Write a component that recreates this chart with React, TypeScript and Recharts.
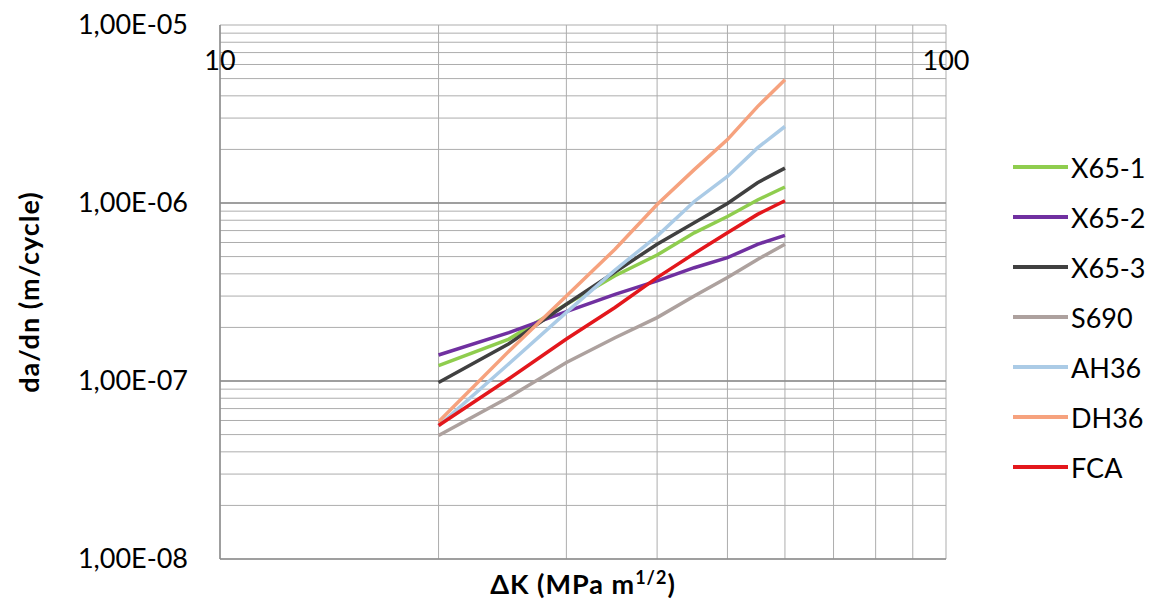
import { LineChart, Line, XAxis, YAxis, CartesianGrid, ReferenceLine, Legend } from "recharts";

// ΔK values (MPa m^1/2) where each curve was sampled
const deltaK = [20, 25, 30, 35, 40, 45, 50, 55, 60];

// da/dn (m/cycle) per material
const x65_1 = [1.22e-7, 1.72e-7, 2.7e-7, 3.9e-7, 5.1e-7, 6.8e-7, 8.4e-7, 1.04e-6, 1.23e-6];
const x65_2 = [1.4e-7, 1.87e-7, 2.45e-7, 3.07e-7, 3.65e-7, 4.33e-7, 4.93e-7, 5.86e-7, 6.58e-7];
const x65_3 = [9.8e-8, 1.62e-7, 2.7e-7, 4.1e-7, 5.86e-7, 7.74e-7, 9.93e-7, 1.3e-6, 1.57e-6];
const s690 = [4.94e-8, 8.1e-8, 1.27e-7, 1.75e-7, 2.27e-7, 3.0e-7, 3.81e-7, 4.82e-7, 5.86e-7];
const ah36 = [5.6e-8, 1.25e-7, 2.43e-7, 4.2e-7, 6.52e-7, 1.02e-6, 1.41e-6, 2.04e-6, 2.69e-6];
const dh36 = [5.9e-8, 1.47e-7, 3.0e-7, 5.5e-7, 9.8e-7, 1.54e-6, 2.27e-6, 3.48e-6, 4.92e-6];
const fca = [5.62e-8, 1.03e-7, 1.72e-7, 2.59e-7, 3.81e-7, 5.2e-7, 6.8e-7, 8.63e-7, 1.03e-6];

const series = [
  { key: "X65-1", values: x65_1, color: "#8fcd4e" },
  { key: "X65-2", values: x65_2, color: "#7030a0" },
  { key: "X65-3", values: x65_3, color: "#404040" },
  { key: "S690", values: s690, color: "#ada19e" },
  { key: "AH36", values: ah36, color: "#abcbe6" },
  { key: "DH36", values: dh36, color: "#f6a27e" },
  { key: "FCA", values: fca, color: "#e3171c" },
];

// log grid: mantissas x decades
const mantissas = [1, 2, 3, 4, 5, 6, 7, 8, 9];
const yDecades = [1e-8, 1e-7, 1e-6];
const xDecades = [10];
const yTicks = [...yDecades.flatMap((d) => mantissas.map((m) => m * d)), 1e-5];
const xTicks = [...xDecades.flatMap((d) => mantissas.map((m) => m * d)), 100];

const data = deltaK.map((k, i) => {
  const row: Record<string, number> = { dk: k };
  series.forEach((s) => (row[s.key] = s.values[i]));
  return row;
});

const FONT = "Lato, 'Noto Sans', sans-serif";

const isDecade = (v: number) => Math.abs(Math.log10(v) - Math.round(Math.log10(v))) < 1e-9;

const YTick = ({ x, y, payload }: any) => {
  const v = payload.value;
  if (!isDecade(v)) return null;
  const e = Math.round(Math.log10(v));
  const label = `1,00E-${String(-e).padStart(2, "0")}`;
  return (
    <text x={x - 24} y={y} dy={9} textAnchor="end" fontSize={27} fill="#000" fontFamily={FONT}>
      {label}
    </text>
  );
};

const XTick = ({ x, payload }: any) => {
  const v = payload.value;
  if (!isDecade(v)) return null;
  return (
    <text x={x} y={70} textAnchor="middle" fontSize={27} fill="#000" fontFamily={FONT}>
      {v}
    </text>
  );
};

const LegendBox = () => (
  <div style={{ fontFamily: FONT, fontSize: 27, color: "#000" }}>
    {series.map((s) => (
      <div key={s.key} style={{ display: "flex", alignItems: "center", height: 50 }}>
        <div style={{ width: 55, height: 4, background: s.color, marginRight: 3 }} />
        <span>{s.key}</span>
      </div>
    ))}
  </div>
);

export default function App() {
  return (
    <div style={{ position: "relative", width: 1161, height: 605, background: "#fff" }}>
      <style>{`body{margin:0}`}</style>
      <LineChart width={1161} height={605} data={data} margin={{ top: 25, right: 67, bottom: 45, left: 0 }}>
        <CartesianGrid stroke="#adadad" strokeWidth={1} />
        <XAxis
          dataKey="dk"
          type="number"
          scale="log"
          domain={[10, 100]}
          ticks={xTicks}
          allowDataOverflow
          height={1}
          axisLine={{ stroke: "#8c8c8c", strokeWidth: 1.5 }}
          tickLine={false}
          tick={<XTick />}
          interval={0}
        />
        <YAxis
          type="number"
          scale="log"
          domain={[1e-8, 1e-5]}
          ticks={yTicks}
          allowDataOverflow
          width={220}
          axisLine={{ stroke: "#8c8c8c", strokeWidth: 1.5 }}
          tickLine={false}
          tick={<YTick />}
          interval={0}
        />
        <ReferenceLine y={1e-6} stroke="#8c8c8c" strokeWidth={1.5} />
        <ReferenceLine y={1e-7} stroke="#8c8c8c" strokeWidth={1.5} />
        <Legend
          layout="vertical"
          align="right"
          verticalAlign="top"
          content={<LegendBox />}
          wrapperStyle={{ left: 1013, top: 142, width: 148 }}
        />
        {series.map((s) => (
          <Line
            key={s.key}
            dataKey={s.key}
            stroke={s.color}
            strokeWidth={3.5}
            dot={false}
            type="linear"
            isAnimationActive={false}
          />
        ))}
      </LineChart>
      <div
        style={{
          position: "absolute",
          left: 28,
          top: 292,
          transform: "translate(-50%, -50%) rotate(-90deg)",
          whiteSpace: "nowrap",
          fontFamily: FONT,
          fontWeight: 700,
          fontSize: 27,
          letterSpacing: 1,
        }}
      >
        da/dn (m/cycle)
      </div>
      <div
        style={{
          position: "absolute",
          left: 583,
          top: 583,
          transform: "translate(-50%, -50%)",
          whiteSpace: "nowrap",
          fontFamily: FONT,
          fontWeight: 700,
          fontSize: 27,
          letterSpacing: 1,
        }}
      >
        ΔK (MPa m<sup style={{ fontSize: 18 }}>1/2</sup>)
      </div>
    </div>
  );
}
